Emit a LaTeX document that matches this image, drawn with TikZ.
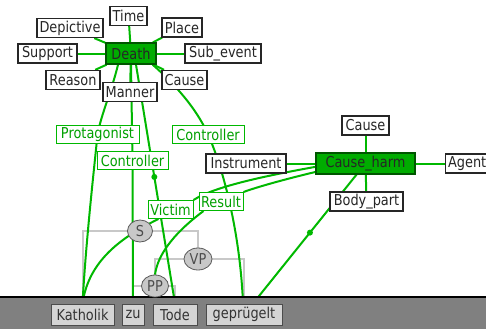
\documentclass[tikz,border=0pt]{standalone}
\usepackage{fontspec}
\setmainfont{DejaVu Sans}[FakeStretch=0.86]
\usetikzlibrary{shapes.geometric,calc}

\definecolor{linkgreen}{RGB}{0,184,0}
\definecolor{roletext}{RGB}{0,160,0}
\definecolor{framefill}{RGB}{0,172,0}
\definecolor{frameedge}{RGB}{0,85,0}
\definecolor{treegray}{RGB}{200,200,200}
\definecolor{synfill}{RGB}{200,200,200}
\definecolor{bargray}{RGB}{128,128,128}
\definecolor{wordfill}{RGB}{212,212,212}

\pgfdeclarelayer{treelayer}
\pgfdeclarelayer{linklayer}
\pgfsetlayers{treelayer,linklayer,main}

\tikzset{
  txt/.style={font=\fontsize{15}{17}\selectfont},
  fe/.style={txt, draw=black!85, fill=white, line width=1.3pt, text=black!85,
    inner xsep=1pt, inner ysep=0pt, minimum height=19pt},
  framebox/.style={fe, fill=framefill, draw=frameedge, text=black!85, minimum height=21pt},
  role/.style={txt, draw=linkgreen, fill=white, line width=1pt, text=roletext,
    inner xsep=1pt, inner ysep=0pt, minimum height=18pt},
  word/.style={txt, draw=black!70, fill=wordfill, line width=1pt, text=black!80,
    inner xsep=1pt, inner ysep=0pt, minimum height=21pt},
  syn/.style={ellipse, txt, draw=black!65, fill=synfill, line width=0.8pt, text=black!70,
    inner sep=0pt, minimum height=22pt},
  tree/.style={draw=treegray, line width=2pt},
  link/.style={draw=linkgreen, line width=2pt},
  tdot/.style={circle, fill=linkgreen, inner sep=0pt, minimum size=6pt},
}

\begin{document}
\begin{tikzpicture}[x=1pt,y=-1pt]
\useasboundingbox (0,0) rectangle (486,329);

% token bar
\fill[bargray] (0,297) rectangle (486,329);
\draw[black, line width=1.5pt] (0,297) -- (486,297);

% tokens
\node[word, minimum width=63pt] (kath) at (82.5,314.5) {Katholik};
\node[word, minimum width=22pt] (zu)   at (133,314.5)  {zu};
\node[word, minimum width=44pt] (tode) at (175,314.5)  {Tode};
\node[word, minimum width=76pt] (gepr) at (244,314.5)  {geprügelt};

% constituents
\node[syn, minimum width=25pt] (s)  at (140,231) {S};
\node[syn, minimum width=28pt] (vp) at (198,259) {VP};
\node[syn, minimum width=27pt] (pp) at (155,286) {PP};

% frame Death
\node[framebox, minimum width=50pt] (death) at (131,53.5) {Death};
\node[fe, minimum width=37pt] (time)    at (128.5,16)  {Time};
\node[fe, minimum width=66pt] (depict)  at (70,28)     {Depictive};
\node[fe, minimum width=40pt] (place)   at (182,27.5)  {Place};
\node[fe, minimum width=59pt] (support) at (47.5,53.5) {Support};
\node[fe, minimum width=76pt] (subev)   at (223,53.5)  {Sub\_event};
\node[fe, minimum width=54pt] (reason)  at (73,80)     {Reason};
\node[fe, minimum width=54pt] (manner)  at (130,92)    {Manner};
\node[fe, minimum width=45pt] (cause)   at (184.5,80)  {Cause};

% frame Cause_harm
\node[framebox, minimum width=99pt] (harm) at (365.5,163.5) {Cause\_harm};
\node[fe, minimum width=47pt] (hcause) at (365.5,125.5) {Cause};
\node[fe, minimum width=80pt] (instr)  at (246,163.5)   {Instrument};
\node[fe, inner xsep=0.5pt, minimum width=44pt, anchor=west] (agent) at (444.5,163.5) {Agent};
\node[fe, minimum width=73pt] (body)   at (366.5,201.5) {Body\_part};

% role labels
\node[role, minimum width=83pt] (protag) at (97.5,134.5) {Protagonist};
\node[role, minimum width=71pt] (ctrlL)  at (132.5,160.5) {Controller};
\node[role, minimum width=72pt] (ctrlR)  at (208,134.5)  {Controller};
\node[role, minimum width=45pt] (victim) at (170.5,209.5) {Victim};
\node[role, minimum width=44pt] (result) at (221,201.5)  {Result};

% phrase structure
\begin{pgfonlayer}{treelayer}
  \draw[tree] (kath.north) |- (vp.north |- s) -- (vp.north);
  \draw[tree] (pp.north) |- (gepr.north |- vp) -- (gepr.north);
  \draw[tree] (zu.north) |- (tode.north |- pp) -- (tode.north);
\end{pgfonlayer}

% frame element links
\begin{pgfonlayer}{linklayer}
  \foreach \n in {time,depict,place,support,subev,reason,manner,cause}
    \draw[link] (death) -- (\n);
  \foreach \n in {hcause,instr,agent,body}
    \draw[link] (harm) -- (\n);

  % Death: Protagonist -> Katholik
  \draw[link] ($(death.south)+(-13,0)$) .. controls (112,90) and (101,115) .. (protag.center)
              .. controls (94,170) and (86,240) .. (kath.north);
  % Death: Controller -> zu
  \draw[link] (death.south) -- (ctrlL.center) -- (zu.north);
  % Death: target Tode
  \draw[link] ($(death.south)+(5,0)$) -- (tode.north) node[tdot, pos=0.47] (dtarget) {};
  % Death: Controller -> geprügelt
  \draw[link] ($(death.south east)+(-4,0)$) .. controls (170,80) and (195,105) .. (ctrlR.center)
              .. controls (222,165) and (240,230) .. ($(gepr.north)+(-1,0)$);

  % Cause_harm: Victim -> Katholik
  \draw[link] ($(harm.west)+(2,3)$) .. controls (270,175) and (215,186) .. (victim.north east);
  \draw[link] ($(victim.south)+(-12,0)$) .. controls (115,240) and (88,265) .. (kath.north);
  % Cause_harm: Result -> PP
  \draw[link] ($(harm.west)+(2,8)$) .. controls (290,178) and (260,186) .. (result.north east);
  \draw[link] ($(result.south west)+(5,0)$) .. controls (178,230) and (158,252) .. (pp.north);
  % Cause_harm: target geprügelt
  \draw[link] ($(harm.south)+(-9,0)$) -- ($(gepr.north)+(9,0)$) node[tdot, pos=0.45] (htarget) {};
\end{pgfonlayer}
\end{tikzpicture}
\end{document}
